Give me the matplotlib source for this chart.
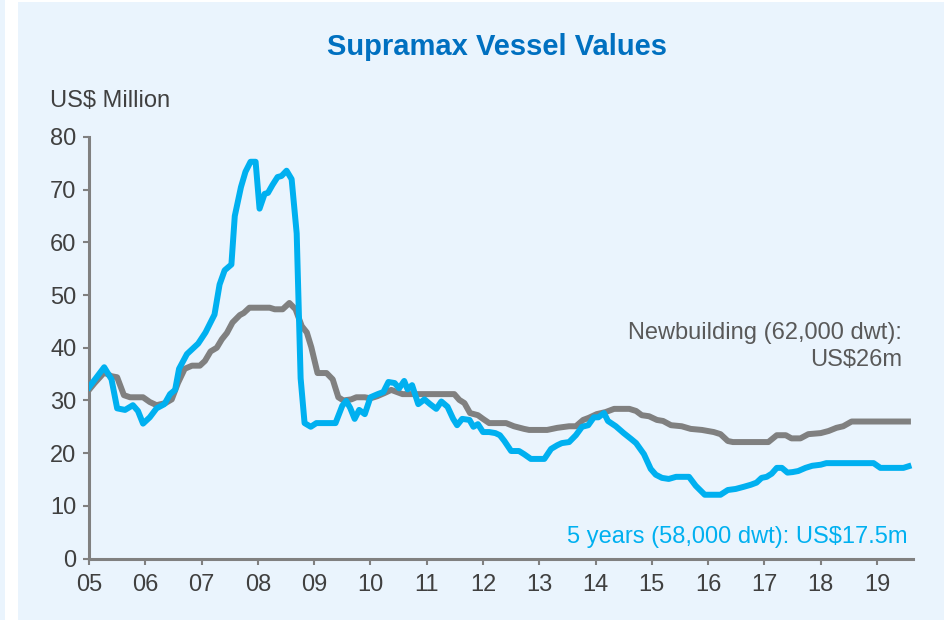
import matplotlib.pyplot as plt
from matplotlib.patches import Rectangle

# decimal years / US$ million
nb_years = [2005.0, 2005.1, 2005.27, 2005.4, 2005.5, 2005.62, 2005.73, 2005.96, 2006.08, 2006.2,
            2006.36, 2006.47, 2006.58, 2006.7, 2006.83, 2006.97, 2007.06, 2007.16, 2007.27, 2007.36,
            2007.45, 2007.55, 2007.68, 2007.75, 2007.85, 2008.21, 2008.3, 2008.44, 2008.56, 2008.67,
            2008.78, 2008.87, 2008.95, 2009.06, 2009.22, 2009.33, 2009.43, 2009.52, 2009.66, 2009.75,
            2009.9, 2010.0, 2010.12, 2010.25, 2010.37, 2010.57, 2010.87, 2011.49, 2011.58, 2011.67,
            2011.77, 2011.91, 2012.0, 2012.11, 2012.41, 2012.55, 2012.73, 2012.82, 2013.14, 2013.32,
            2013.53, 2013.65, 2013.78, 2013.88, 2014.02, 2014.18, 2014.33, 2014.6, 2014.72, 2014.82,
            2014.95, 2015.09, 2015.2, 2015.34, 2015.53, 2015.69, 2015.89, 2016.1, 2016.22, 2016.35,
            2016.44, 2017.07, 2017.22, 2017.38, 2017.48, 2017.64, 2017.78, 2018.0, 2018.14, 2018.28,
            2018.4, 2018.55, 2019.55]
nb_values = [32.0, 33.3, 35.3, 34.6, 34.4, 31.0, 30.6, 30.6, 29.7, 29.1,
             29.5, 30.2, 33.3, 36.0, 36.6, 36.6, 37.5, 39.3, 40.0, 41.6,
             42.8, 44.8, 46.2, 46.6, 47.6, 47.6, 47.3, 47.3, 48.5, 47.3,
             44.1, 42.9, 40.1, 35.2, 35.2, 34.0, 30.6, 30.0, 30.2, 30.6,
             30.6, 30.4, 30.8, 31.4, 32.0, 31.2, 31.2, 31.2, 30.1, 29.5,
             27.6, 27.2, 26.5, 25.7, 25.7, 25.1, 24.6, 24.4, 24.4, 24.8,
             25.1, 25.1, 26.3, 26.7, 27.4, 27.8, 28.4, 28.4, 28.0, 27.2,
             27.0, 26.3, 26.1, 25.3, 25.1, 24.6, 24.4, 24.0, 23.6, 22.3,
             22.1, 22.1, 23.4, 23.4, 22.8, 22.8, 23.6, 23.8, 24.2, 24.8,
             25.1, 26.0, 26.0]

fy_years = [2005.0, 2005.27, 2005.4, 2005.5, 2005.64, 2005.78, 2005.87, 2005.96, 2006.08, 2006.2,
            2006.34, 2006.44, 2006.53, 2006.6, 2006.74, 2006.84, 2006.94, 2007.07, 2007.23, 2007.32,
            2007.41, 2007.53, 2007.59, 2007.7, 2007.78, 2007.87, 2007.96, 2008.03, 2008.12, 2008.18,
            2008.26, 2008.35, 2008.42, 2008.51, 2008.6, 2008.69, 2008.76, 2008.83, 2008.94, 2009.04,
            2009.38, 2009.5, 2009.57, 2009.64, 2009.72, 2009.8, 2009.9, 2010.0, 2010.13, 2010.23,
            2010.32, 2010.43, 2010.51, 2010.6, 2010.66, 2010.74, 2010.85, 2010.96, 2011.06, 2011.17,
            2011.26, 2011.37, 2011.47, 2011.54, 2011.63, 2011.76, 2011.83, 2011.91, 2012.0, 2012.11,
            2012.22, 2012.3, 2012.38, 2012.5, 2012.64, 2012.73, 2012.85, 2013.09, 2013.21, 2013.32,
            2013.4, 2013.53, 2013.65, 2013.76, 2013.87, 2013.97, 2014.05, 2014.15, 2014.22, 2014.36,
            2014.5, 2014.63, 2014.72, 2014.86, 2014.98, 2015.07, 2015.18, 2015.3, 2015.43, 2015.66,
            2015.78, 2015.94, 2016.22, 2016.35, 2016.49, 2016.63, 2016.76, 2016.86, 2016.95, 2017.04,
            2017.13, 2017.22, 2017.31, 2017.41, 2017.5, 2017.6, 2017.73, 2017.85, 2018.0, 2018.1,
            2018.94, 2019.06, 2019.47, 2019.56]
fy_values = [32.5, 36.3, 34.0, 28.5, 28.2, 29.1, 28.0, 25.6, 26.8, 28.5,
             29.3, 31.2, 32.0, 36.0, 38.8, 39.8, 40.8, 42.9, 46.3, 52.0,
             54.7, 55.8, 65.0, 70.5, 73.4, 75.3, 75.3, 66.4, 69.2, 69.4,
             70.9, 72.4, 72.6, 73.6, 72.0, 61.7, 34.2, 25.7, 25.0, 25.7,
             25.7, 29.0, 29.9, 28.6, 26.5, 28.2, 27.4, 30.6, 31.2, 31.6,
             33.5, 33.3, 32.3, 33.7, 32.1, 32.9, 29.3, 30.2, 29.3, 28.4,
             29.8, 28.8, 26.5, 25.3, 26.5, 26.3, 25.0, 25.5, 24.0, 24.0,
             23.8, 23.4, 22.3, 20.4, 20.4, 19.8, 18.9, 18.9, 20.8, 21.5,
             21.9, 22.1, 23.4, 25.0, 25.3, 26.8, 26.8, 27.6, 26.1, 25.1,
             23.8, 22.7, 21.9, 19.8, 17.0, 15.9, 15.3, 15.1, 15.5, 15.5,
             13.8, 12.1, 12.1, 13.0, 13.2, 13.6, 14.0, 14.4, 15.3, 15.5,
             16.1, 17.2, 17.2, 16.3, 16.4, 16.6, 17.2, 17.6, 17.8, 18.1,
             18.1, 17.2, 17.2, 17.5]

year_ticks = list(range(2005, 2020))
year_labels = ['%02d' % (y % 100) for y in year_ticks]
value_ticks = list(range(0, 90, 10))

plt.rcParams['font.family'] = ['Liberation Sans', 'DejaVu Sans']

panel = '#eaf4fd'
gray_line = '#808080'
cyan = '#00b0f0'
text_col = '#404040'

fig = plt.figure(figsize=(9.45, 6.2), dpi=100, facecolor='white')
fig.patches.append(Rectangle((18 / 945, 0), 1, 1 - 2 / 620, transform=fig.transFigure,
                             facecolor=panel, edgecolor='none', zorder=-5))
fig.patches.append(Rectangle((0, 0), 5 / 945, 1, transform=fig.transFigure,
                             facecolor=panel, edgecolor='none', zorder=-5))

ax = fig.add_axes([89 / 945, 61.5 / 620, (913 - 89) / 945, (558.5 - 137) / 620])
ax.set_facecolor('none')
ax.set_zorder(2)

ax.plot(nb_years, nb_values, color=gray_line, lw=4.3, solid_joinstyle='round', zorder=3)
ax.plot(fy_years, fy_values, color=cyan, lw=4.3, solid_joinstyle='round', zorder=4)

ax.set_xlim(2005, 2019.64)
ax.set_ylim(0, 80)
ax.set_xticks(year_ticks)
ax.set_xticklabels(year_labels)
ax.set_yticks(value_ticks)

for side in ['top', 'right']:
    ax.spines[side].set_visible(False)
for side in ['left', 'bottom']:
    ax.spines[side].set_color(gray_line)
    ax.spines[side].set_linewidth(2.2)
ax.tick_params(axis='both', colors=gray_line, width=1.5, length=4, labelsize=17, labelcolor=text_col)
ax.tick_params(axis='x', pad=7)
ax.tick_params(axis='y', pad=5)

fig.text(497 / 945, 1 - 47 / 620, 'Supramax Vessel Values', ha='center', va='center',
         fontsize=21, fontweight='bold', color='#0070c0')
fig.text(50 / 945, 1 - 101 / 620, 'US$ Million', ha='left', va='center', fontsize=17, color=text_col)
fig.text(902 / 945, 1 - 322 / 620, 'Newbuilding (62,000 dwt):\nUS$26m', ha='right', va='top',
         multialignment='right', fontsize=17, color='#595959', linespacing=1.28)
fig.text(908 / 945, 1 - 537 / 620, '5 years (58,000 dwt): US$17.5m', ha='right', va='center',
         fontsize=17, color=cyan)

fig.savefig('out.png', dpi=100, facecolor=fig.get_facecolor())
